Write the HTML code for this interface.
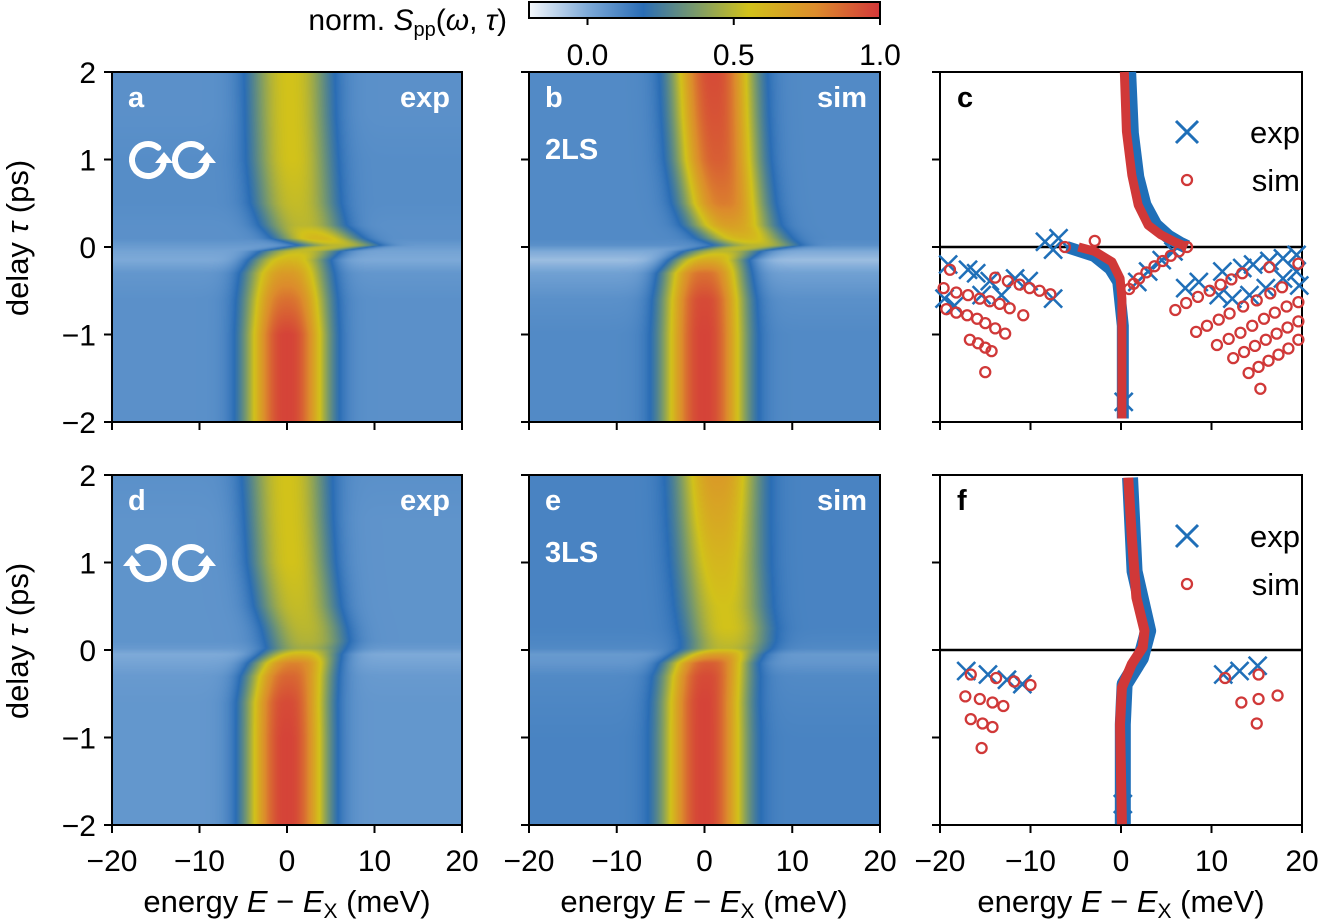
<!DOCTYPE html>
<html><head><meta charset="utf-8">
<style>
html,body{margin:0;padding:0;background:#fff;}
#wrap{position:relative;width:1321px;height:919px;overflow:hidden;font-family:"Liberation Sans",sans-serif;}
canvas{position:absolute;}
svg{position:absolute;left:0;top:0;}
</style></head>
<body>
<div id="wrap">
<canvas id="hm-a" width="350" height="350" style="left:112px;top:72px"></canvas>
<canvas id="hm-b" width="351" height="350" style="left:529px;top:72px"></canvas>
<canvas id="hm-d" width="350" height="350" style="left:112px;top:475px"></canvas>
<canvas id="hm-e" width="351" height="350" style="left:529px;top:475px"></canvas>
<svg id="ov" width="1321" height="919" xmlns="http://www.w3.org/2000/svg"></svg>
</div>
<script>
// ---------- heatmap data (rows by delay) ----------
const rowTau = [2, 1.5, 1, 0.5, 0.25, 0.1, 0.02, -0.05, -0.15, -0.3, -0.6, -1, -1.5, -2];
const aCenter = [0.3, 0.4, 0.6, 1.0, 1.8, 3.5, 6, 1.5, 0.3, 0, 0, 0, 0, 0];
const aAmp = [0.55, 0.55, 0.55, 0.52, 0.5, 0.6, 0.5, 0.52, 0.6, 0.72, 0.85, 0.97, 0.97, 0.97];
const aBg = [0.08, 0.08, 0.09, 0.09, 0.08, 0.08, 0.05, 0.02, 0.0, 0.06, 0.08, 0.08, 0.08, 0.08];
const bCenter = [1, 1.2, 1.5, 2.2, 3, 4.5, 6, 2, 0.5, 0, 0, 0, 0, 0];
const bAmp = [0.95, 0.93, 0.9, 0.82, 0.7, 0.6, 0.5, 0.5, 0.65, 0.85, 0.95, 0.97, 0.97, 0.97];
const bBg = [0.1, 0.1, 0.1, 0.1, 0.1, 0.1, 0.08, 0.0, -0.05, 0.03, 0.08, 0.1, 0.1, 0.1];
const dCenter = [0, 0.2, 0.5, 1.2, 2, 2.3, 2.2, 1.5, 0.8, 0.3, 0, 0, 0, 0];
const dAmp = [0.55, 0.55, 0.55, 0.52, 0.5, 0.48, 0.45, 0.6, 0.8, 0.88, 0.95, 0.97, 0.97, 0.97];
const dBg = [0.08, 0.07, 0.07, 0.07, 0.07, 0.07, 0.05, 0.0, 0.02, 0.05, 0.06, 0.06, 0.06, 0.06];
const eCenter = [1.5, 1.6, 1.8, 2.2, 2.6, 2.7, 2.5, 1.5, 0.5, 0.2, 0, 0, 0, 0];
const eAmp = [0.72, 0.66, 0.6, 0.55, 0.55, 0.52, 0.5, 0.7, 0.9, 0.95, 0.97, 0.97, 0.97, 0.97];
const eBg = [0.12, 0.12, 0.12, 0.12, 0.12, 0.11, 0.1, 0.05, 0.06, 0.1, 0.11, 0.12, 0.12, 0.12];
const bandWidth = 3.4;

// ---------- scatter data (panel c) [delay ps, energy meV] ----------
const cSimUpper = [[2,0.37],[1.32,0.6],[0.82,1.2],[0.48,1.9],[0.25,3.0],[0.14,4.4],[0.06,5.9],[0,7.3]];
const cSimLower = [[0,-4.7],[-0.05,-2.9],[-0.17,-1.0],[-0.36,-0.1],[-0.59,0.1],[-1.96,0.1]];
const cExpUpper = [[2,0.9],[1.3,1.2],[0.8,1.8],[0.48,2.6],[0.25,3.8],[0.12,5.2],[0.04,6.5],[0,7.3]];
const cExpLower = [[0,-6],[-0.1,-3.0],[-0.25,-1.2],[-0.4,-0.3],[-0.9,0.2],[-1.96,0.2]];
const cSimPts = [
 [-0.26,-18.9],[-0.35,-13.9],[-0.39,-12.5],[-0.43,-11.2],[-0.47,-10.1],[-0.50,-9.0],[-0.54,-7.8],
 [-0.47,-19.6],[-0.52,-18.2],[-0.55,-16.9],[-0.59,-15.6],[-0.62,-14.5],[-0.65,-13.4],[-0.70,-12.3],[-0.78,-10.8],
 [-0.71,-19.3],[-0.75,-18.2],[-0.78,-17.0],[-0.82,-15.9],[-0.87,-15.0],[-0.93,-13.9],[-0.99,-12.8],
 [-1.06,-16.7],[-1.10,-15.8],[-1.15,-15.0],[-1.19,-14.3],[-1.43,-15.0],
 [0,-6.2],[0.07,-2.9],
 [0,7.3],[-0.05,6.4],[-0.1,5.5],[-0.16,4.6],[-0.22,3.7],[-0.29,2.8],[-0.36,2.0],[-0.42,1.4],[-0.48,0.9],
 [-0.72,6.0],[-0.64,7.2],[-0.57,8.5],[-0.50,9.8],[-0.43,11.0],[-0.37,12.2],[-0.30,13.4],
 [-0.97,8.3],[-0.90,9.5],[-0.83,10.8],[-0.76,12.0],[-0.68,13.5],[-0.61,15.0],[-0.53,16.5],[-0.46,17.8],
 [-1.12,10.6],[-1.05,11.9],[-0.98,13.2],[-0.90,14.5],[-0.82,15.8],[-0.75,17.0],[-0.68,18.3],[-0.63,19.6],
 [-1.27,12.4],[-1.20,13.6],[-1.13,14.8],[-1.06,16.0],[-0.99,17.2],[-0.92,18.4],[-0.85,19.6],
 [-1.44,14.1],[-1.37,15.2],[-1.30,16.3],[-1.23,17.4],[-1.16,18.5],[-1.06,19.6],
 [-1.62,15.4],[-0.23,16.4],[-0.19,19.6]
];
const cExpPts = [
 [-0.20,-19.1],[-0.26,-16.9],[-0.30,-16.0],[-0.39,-14.5],[-0.55,-13.2],[-0.36,-11.7],[-0.39,-10.2],[-0.59,-7.5],
 [-0.59,-19.5],[-0.67,-18.4],[-0.55,-15.4],[0.06,-8.4],[0.10,-6.9],[-0.03,-7.5],
 [-0.05,5.8],[-0.15,4.5],[-0.28,3.0],[-0.40,1.8],
 [-0.47,7.1],[-0.40,8.6],[-0.55,10.8],[-0.59,12.3],[-0.28,11.2],[-0.24,13.4],[-0.20,14.6],[-0.16,16.4],
 [-0.13,17.9],[-0.09,19.4],[-0.47,16.0],[-0.36,17.9],[-0.28,19.4],[-0.55,14.2],[-0.44,19.7],[-1.77,0.3]
];
// ---------- scatter data (panel f) ----------
const fSimMain = [[1.97,0.8],[1.28,1.2],[0.6,1.7],[0.22,2.6],[0.03,2.4],[-0.16,1.2],[-0.43,0.1],[-0.85,-0.1],[-1.99,0.1]];
const fExpMain = [[1.97,1.0],[0.9,1.5],[0.22,3.0],[-0.09,2.2],[-0.39,0.4],[-0.85,0.2],[-1.99,0.2]];
const fSimPts = [
 [-0.28,-16.6],[-0.32,-13.8],[-0.36,-11.8],[-0.40,-10.0],[-0.53,-17.2],[-0.56,-15.6],[-0.60,-14.2],[-0.64,-13.0],
 [-0.79,-16.6],[-0.84,-15.3],[-0.88,-14.2],[-1.12,-15.4],
 [-0.32,11.5],[-0.28,15.2],[-0.60,13.3],[-0.56,15.2],[-0.52,17.3],[-0.84,15.0]
];
const fExpPts = [[-0.24,-17.1],[-0.28,-14.7],[-0.34,-12.6],[-0.39,-10.9],[-0.28,11.3],[-0.24,13.1],[-0.18,15.1],[-1.76,0.2]];

const xTicks = [-20, -10, 0, 10, 20];
const yTicks = [2, 1, 0, -1, -2];
const cbTicks = [0.0, 0.5, 1.0];

// ---------- colormap ----------
const cmStops = [[-0.2,[245,248,252]],[0.0,[126,170,216]],[0.19,[42,109,181]],[0.37,[122,154,106]],[0.55,[210,194,26]],[0.78,[220,140,44]],[1.0,[212,56,58]]];
function cmap(v){
  if(v<=cmStops[0][0]) return cmStops[0][1];
  for(let i=1;i<cmStops.length;i++){
    if(v<=cmStops[i][0]){
      const a=cmStops[i-1],b=cmStops[i],t=(v-a[0])/(b[0]-a[0]);
      return [0,1,2].map(k=>a[1][k]+(b[1][k]-a[1][k])*t);
    }
  }
  return cmStops[cmStops.length-1][1];
}
function rowInterp(arr,tau){
  for(let i=1;i<rowTau.length;i++){
    if(tau>=rowTau[i]){const t=(rowTau[i-1]-tau)/(rowTau[i-1]-rowTau[i]);return arr[i-1]+(arr[i]-arr[i-1])*t;}
  }
  return arr[arr.length-1];
}
function drawHeat(id,cen,amp,bg){
  const c=document.getElementById(id),ctx=c.getContext('2d'),W=c.width,H=c.height;
  const img=ctx.createImageData(W,H);
  for(let py=0;py<H;py++){
    const tau=2-4*(py+0.5)/H;
    const c0=rowInterp(cen,tau),a0=rowInterp(amp,tau),b0=rowInterp(bg,tau);
    for(let px=0;px<W;px++){
      const E=-20+40*(px+0.5)/W;
      const x=Math.abs((E-c0)/bandWidth);
      const v=b0+(a0-b0)*Math.exp(-Math.pow(x,2.5)/2);
      const col=cmap(v),o=(py*W+px)*4;
      img.data[o]=col[0];img.data[o+1]=col[1];img.data[o+2]=col[2];img.data[o+3]=255;
    }
  }
  ctx.putImageData(img,0,0);
}
drawHeat('hm-a',aCenter,aAmp,aBg);
drawHeat('hm-b',bCenter,bAmp,bBg);
drawHeat('hm-d',dCenter,dAmp,dBg);
drawHeat('hm-e',eCenter,eAmp,eBg);

// ---------- SVG overlay ----------
const NS='http://www.w3.org/2000/svg';
const ov=document.getElementById('ov');
function el(tag,attrs,parent){const e=document.createElementNS(NS,tag);for(const k in attrs)e.setAttribute(k,attrs[k]);(parent||ov).appendChild(e);return e;}
function txt(s,x,y,attrs,parent){const t=el('text',Object.assign({x:x,y:y,'font-family':'Liberation Sans, sans-serif','font-size':30,fill:'#000'},attrs||{}),parent);t.textContent=s;return t;}

const panels=[
 {id:'a',x0:112,x1:462,y0:72,y1:422,ylab:true,xlab:false},
 {id:'b',x0:529,x1:880,y0:72,y1:422,ylab:false,xlab:false},
 {id:'c',x0:940,x1:1302,y0:72,y1:422,ylab:false,xlab:false},
 {id:'d',x0:112,x1:462,y0:475,y1:825,ylab:true,xlab:true},
 {id:'e',x0:529,x1:880,y0:475,y1:825,ylab:false,xlab:true},
 {id:'f',x0:940,x1:1302,y0:475,y1:825,ylab:false,xlab:true}
];
function sx(p,E){return p.x0+(E+20)/40*(p.x1-p.x0);}
function sy(p,t){return p.y0+(2-t)/4*(p.y1-p.y0);}

panels.forEach(p=>{
  const g=el('g',{});
  
  
  xTicks.forEach(v=>{
    const X=sx(p,v);
    el('line',{x1:X,x2:X,y1:p.y1,y2:p.y1+8,stroke:'#000','stroke-width':2},g);
    if(p.xlab){const t=txt((v<0?'\u2212':'')+Math.abs(v),X,871,{'text-anchor':'middle'},g);
      
      }
  });
  yTicks.forEach(v=>{
    const Y=sy(p,v);
    el('line',{x1:p.x0-8,x2:p.x0,y1:Y,y2:Y,stroke:'#000','stroke-width':2},g);
    if(p.ylab){const t=txt((v<0?'\u2212':'')+Math.abs(v),p.x0-16,Y+11,{'text-anchor':'end'},g);
      
      }
  });
  const fr=el('rect',{x:p.x0,y:p.y0,width:p.x1-p.x0,height:p.y1-p.y0,fill:'none',stroke:'#000','stroke-width':2},g);
  
  
});

// panel labels
function plabel(s,x,y,col,anchor,name){const t=txt(s,x,y,{'font-weight':'bold',fill:col,'text-anchor':anchor||'start','font-size':29});
  
  }
plabel('a',128,107,'#fff','start','panel-label-a');plabel('exp',450,107,'#fff','end','panel-tag-exp');
plabel('b',545,107,'#fff','start','panel-label-b');plabel('sim',867,107,'#fff','end','panel-tag-sim');
plabel('2LS',545,159,'#fff','start','model-label-2ls');
plabel('c',957,107,'#000','start','panel-label-c');
plabel('d',128,510,'#fff','start','panel-label-d');plabel('exp',450,510,'#fff','end','panel-tag-exp');
plabel('e',545,510,'#fff','start','panel-label-e');plabel('sim',867,510,'#fff','end','panel-tag-sim');
plabel('3LS',545,562,'#fff','start','model-label-3ls');
plabel('f',957,510,'#000','start','panel-label-f');

// circular polarization icons
function circArrow(cx,cy,mirror,name){
  const g=el('g',{transform:mirror?`translate(${2*cx},0) scale(-1,1)`:''});
  
  
  const r=16;
  const sxp=cx+r*Math.cos(-50*Math.PI/180), syp=cy+r*Math.sin(-50*Math.PI/180);
  const ex=cx+r*Math.cos(15*Math.PI/180), ey=cy+r*Math.sin(15*Math.PI/180);
  el('path',{d:`M${sxp},${syp} A${r},${r} 0 1 0 ${ex},${ey}`,fill:'none',stroke:'#fff','stroke-width':6,'stroke-linecap':'round'},g);
  el('polygon',{points:`${cx+r-9},${cy+3} ${cx+r+9},${cy+3} ${cx+r},${cy-8}`,fill:'#fff'},g);
}
circArrow(148,160,false,'sigma-plus-icon');circArrow(191,160,false,'sigma-plus-icon');
circArrow(148,563,true,'sigma-minus-icon');circArrow(191,563,false,'sigma-plus-icon');

// axis titles
function ytitle(cy,name){const t=txt('',20,cy,{'text-anchor':'middle',transform:`rotate(-90 20 ${cy})`,'dominant-baseline':'middle','font-size':31});
  t.innerHTML='delay <tspan font-style="italic">τ</tspan> (ps)';
  
  }
ytitle(238,'y-axis-title-top');ytitle(641,'y-axis-title-bottom');
[287,704,1121].forEach(cx=>{
  const t=txt('',cx,912,{'text-anchor':'middle','font-size':31});
  t.innerHTML='energy <tspan font-style="italic">E</tspan> − <tspan font-style="italic">E</tspan><tspan font-size="21" dy="6">X</tspan><tspan dy="-6"> (meV)</tspan>';
  
  
});

// colorbar
const defs=el('defs',{});
const lg=el('linearGradient',{id:'cbg',x1:0,x2:1,y1:0,y2:0},defs);
cmStops.forEach(s=>{el('stop',{offset:(s[0]+0.2)/1.2,'stop-color':`rgb(${s[1].map(Math.round).join(',')})`},lg);});
const cb=el('rect',{x:529,y:2,width:351,height:16,fill:'url(#cbg)',stroke:'#000','stroke-width':2});


cbTicks.forEach(v=>{
  const X=529+(v+0.2)/1.2*351;
  el('line',{x1:X,x2:X,y1:18,y2:25,stroke:'#000','stroke-width':2});
  const t=txt(v.toFixed(1),X,65,{'text-anchor':'middle'});
  
  
});
{const t=txt('',507,30,{'text-anchor':'end'});
 t.innerHTML='norm. <tspan font-style="italic">S</tspan><tspan font-size="20" dy="6">pp</tspan><tspan dy="-6">(<tspan font-style="italic">ω</tspan>, <tspan font-style="italic">τ</tspan>)</tspan>';
 
 }

// scatter panels
const BLUE='#1f6fb8',RED='#d03838';
function polyline(p,pts,col,w,name){
  const d=pts.map((q,i)=>(i?'L':'M')+sx(p,q[1])+','+sy(p,q[0])).join(' ');
  const e=el('path',{d:d,fill:'none',stroke:col,'stroke-width':w,'stroke-linejoin':'round','stroke-linecap':'butt'});
  
  
}
function xmark(X,Y,s){
  const g=el('g',{});
  
  
  el('path',{d:`M${X-s},${Y-s}L${X+s},${Y+s}M${X-s},${Y+s}L${X+s},${Y-s}`,stroke:BLUE,'stroke-width':2.6},g);
}
function omark(X,Y,r){
  const c=el('circle',{cx:X,cy:Y,r:r,fill:'none',stroke:RED,'stroke-width':2.3});
  
  
}
const pc=panels[2],pf=panels[5];
[pc,pf].forEach(p=>{const z=el('line',{x1:p.x0,x2:p.x1,y1:sy(p,0),y2:sy(p,0),stroke:'#000','stroke-width':2.5});
  
  });
polyline(pc,cExpUpper,BLUE,14,'exp-main-branch');
polyline(pc,cExpLower,BLUE,12,'exp-lower-branch');
cExpPts.forEach(q=>xmark(sx(pc,q[1]),sy(pc,q[0]),9));
polyline(pc,cSimUpper,RED,9,'sim-main-branch');
polyline(pc,cSimLower,RED,9,'sim-lower-branch');
cSimPts.forEach(q=>omark(sx(pc,q[1]),sy(pc,q[0]),5));
polyline(pf,fExpMain,BLUE,16,'exp-main-branch');
fExpPts.forEach(q=>xmark(sx(pf,q[1]),sy(pf,q[0]),9));
polyline(pf,fSimMain,RED,10,'sim-main-branch');
fSimPts.forEach(q=>omark(sx(pf,q[1]),sy(pf,q[0]),5));

// legends
[[pc,132],[pf,536]].forEach(([p,y])=>{
  const g=el('g',{});
  
  
  el('path',{d:`M1176,${y-11}L1198,${y+11}M1176,${y+11}L1198,${y-11}`,stroke:BLUE,'stroke-width':3},g);
  el('circle',{cx:1187,cy:y+48,r:5,fill:'none',stroke:RED,'stroke-width':2.3},g);
  txt('exp',1300,y+11,{'text-anchor':'end','font-size':31},g);
  txt('sim',1300,y+59,{'text-anchor':'end','font-size':31},g);
});
</script>
</body></html>
